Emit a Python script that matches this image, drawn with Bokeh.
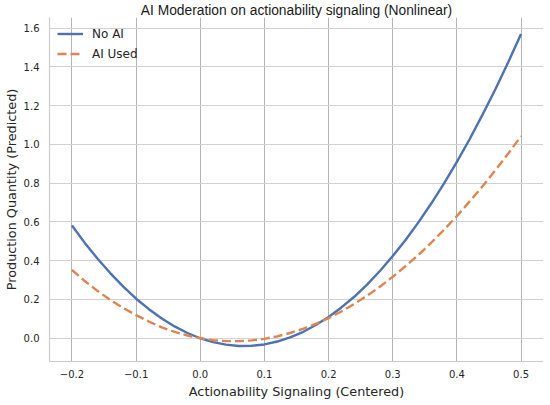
from bokeh.plotting import figure
from bokeh.models import Range1d, FixedTicker, Legend, LegendItem
from bokeh.embed import file_html
from bokeh.resources import INLINE

# Data
x_vals = [-0.20, -0.18, -0.16, -0.14, -0.12, -0.10, -0.08, -0.06, -0.04, -0.02,
          0.00, 0.02, 0.04, 0.06, 0.08, 0.10, 0.12, 0.14, 0.16, 0.18,
          0.20, 0.22, 0.24, 0.26, 0.28, 0.30, 0.32, 0.34, 0.36, 0.38,
          0.40, 0.42, 0.44, 0.46, 0.48, 0.50]
no_ai = [0.582, 0.492, 0.410, 0.335, 0.266, 0.204, 0.150, 0.102, 0.061, 0.027,
         0.000, -0.020, -0.033, -0.040, -0.039, -0.032, -0.017, 0.004, 0.032, 0.068,
         0.110, 0.159, 0.214, 0.277, 0.347, 0.424, 0.507, 0.598, 0.695, 0.799,
         0.910, 1.028, 1.154, 1.285, 1.424, 1.570]
ai_used = [0.352, 0.295, 0.244, 0.197, 0.156, 0.119, 0.086, 0.056, 0.033, 0.014,
           0.000, -0.010, -0.015, -0.015, -0.011, -0.003, 0.010, 0.027, 0.048, 0.074,
           0.104, 0.138, 0.177, 0.219, 0.266, 0.317, 0.372, 0.430, 0.493, 0.560,
           0.631, 0.706, 0.784, 0.867, 0.953, 1.043]

x_ticks = [-0.2, -0.1, 0.0, 0.1, 0.2, 0.3, 0.4, 0.5]
x_tick_labels = ["\u22120.2", "\u22120.1", "0.0", "0.1", "0.2", "0.3", "0.4", "0.5"]
y_ticks = [0.0, 0.2, 0.4, 0.6, 0.8, 1.0, 1.2, 1.4, 1.6]
y_tick_labels = ["0.0", "0.2", "0.4", "0.6", "0.8", "1.0", "1.2", "1.4", "1.6"]

title_text = "AI Moderation on actionability signaling (Nonlinear)"
x_label = "Actionability Signaling (Centered)"
y_label = "Production Quantity (Predicted)"
series_names = ["No AI", "AI Used"]

TXT = "#262626"
FONT = "DejaVu Sans"

p = figure(frame_width=494, frame_height=344, output_backend="svg", toolbar_location=None,
           x_range=Range1d(-0.235, 0.535), y_range=Range1d(-0.12, 1.655),
           min_border_left=43, min_border_right=0, min_border_top=12, min_border_bottom=33)

p.title.text = title_text
p.title.align = "center"
p.title.text_font = "Liberation Sans"
p.title.text_font_size = "13.8px"
p.title.text_font_style = "normal"
p.title.text_color = "#1a1a1a"
p.title.standoff = 0
p.title.offset = 0

p.outline_line_color = None
p.background_fill_color = "white"
p.border_fill_color = "white"

p.xaxis.ticker = FixedTicker(ticks=x_ticks)
p.yaxis.ticker = FixedTicker(ticks=y_ticks)
p.xaxis.major_label_overrides = dict(zip(x_ticks, x_tick_labels))
p.yaxis.major_label_overrides = dict(zip(y_ticks, y_tick_labels))

for ax in (p.xaxis, p.yaxis):
    ax.axis_line_color = "#cccccc"
    ax.axis_line_width = 1.2
    ax.major_tick_line_color = None
    ax.minor_tick_line_color = None
    ax.major_tick_out = 0
    ax.major_tick_in = 0
    ax.major_label_text_font = FONT
    ax.major_label_text_font_size = "10px"
    ax.major_label_text_color = TXT
    ax.axis_label_text_font = FONT
    ax.axis_label_text_font_size = "12.8px"
    ax.axis_label_text_font_style = "normal"
    ax.axis_label_text_color = TXT

p.xaxis.axis_label = x_label
p.yaxis.axis_label = y_label
p.xaxis.major_label_standoff = 8
p.xaxis.axis_label_standoff = 3
p.yaxis.major_label_standoff = 10
p.yaxis.axis_label_standoff = 2

p.xgrid.grid_line_color = "#b4b4b4"
p.xgrid.grid_line_width = 1
p.ygrid.grid_line_color = "#d2d2d2"
p.ygrid.grid_line_width = 1.2

r1 = p.line(x_vals, no_ai, line_color="#4c72b0", line_width=2.4)
r2 = p.line(x_vals, ai_used, line_color="#dd8452", line_width=2.4, line_dash="9 4")

legend = Legend(items=[LegendItem(label=series_names[0], renderers=[r1]),
                       LegendItem(label=series_names[1], renderers=[r2])],
                location="top_left", margin=8, padding=0, spacing=3,
                glyph_width=26, glyph_height=17, label_height=17, label_standoff=9,
                label_text_font=FONT, label_text_font_size="12px", label_text_color=TXT,
                border_line_color=None, background_fill_alpha=0)
p.add_layout(legend, "center")

open("out.html", "w").write(file_html(p, INLINE))
